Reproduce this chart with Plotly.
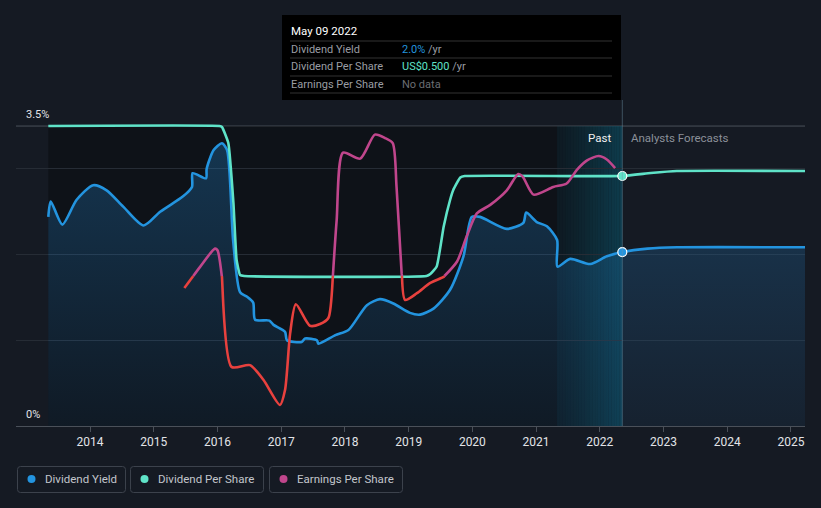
import plotly.graph_objects as go

W, H = 821, 508

# ---------------- data ----------------
# Dividend Yield (%), decimal years
dy_x = [2013.345, 2013.383, 2013.565, 2013.79, 2014.05, 2014.26, 2014.52, 2014.84, 2015.10,
        2015.46, 2015.60, 2015.61, 2015.82, 2015.83, 2015.94, 2016.07, 2016.15, 2016.245,
        2016.355, 2016.46, 2016.56, 2016.59, 2016.815, 2016.88, 2017.06, 2017.09, 2017.32,
        2017.375, 2017.56, 2017.585, 2017.85, 2018.055, 2018.345, 2018.55, 2018.76, 2019.02,
        2019.18, 2019.39, 2019.65, 2019.86, 2019.99, 2020.12, 2020.54, 2020.80, 2020.845,
        2021.01, 2021.17, 2021.33, 2021.335, 2021.535, 2021.85, 2022.11, 2022.353,
        2022.75, 2023.21, 2025.22]
dy_y = [2.44, 2.62, 2.35, 2.64, 2.81, 2.75, 2.56, 2.34, 2.50,
        2.68, 2.79, 2.95, 2.89, 3.00, 3.22, 3.30, 3.22, 2.17,
        1.56, 1.51, 1.44, 1.24, 1.23, 1.18, 1.10, 1.00, 0.98,
        1.02, 1.00, 0.96, 1.06, 1.12, 1.41, 1.48, 1.43, 1.32,
        1.30, 1.37, 1.59, 1.98, 2.44, 2.44, 2.30, 2.37, 2.49,
        2.38, 2.33, 2.17, 1.86, 1.95, 1.89, 1.98, 2.03,
        2.07, 2.085, 2.085]

# Dividend Per Share (US$)
dps_x = [2013.345, 2016.03, 2016.07, 2016.17, 2016.25, 2016.30, 2016.355, 2016.42, 2019.28,
         2019.34, 2019.44, 2019.55, 2019.65, 2019.70, 2019.81, 2019.88, 2022.353,
         2022.8, 2023.21, 2025.22]
dps_y = [0.60, 0.60, 0.598, 0.566, 0.446, 0.332, 0.302, 0.30, 0.30,
         0.304, 0.319, 0.399, 0.452, 0.472, 0.497, 0.50, 0.50,
         0.506, 0.51, 0.51]

# Earnings Per Share (US$)
eps_x = [2015.48, 2015.73, 2015.96, 2016.00, 2016.07, 2016.22, 2016.51, 2016.72, 2016.98,
         2017.06, 2017.14, 2017.23, 2017.45, 2017.61, 2017.74, 2017.81, 2017.87, 2017.97,
         2018.24, 2018.47, 2018.63, 2018.75, 2018.81, 2018.89, 2018.945, 2019.13, 2019.34,
         2019.55, 2019.76, 2019.91, 2020.07, 2020.28, 2020.54, 2020.72, 2020.79, 2020.96,
         2021.27, 2021.48, 2021.64, 2021.80, 2021.98, 2022.11, 2022.24]
eps_y = [1.61, 1.86, 2.07, 2.05, 1.74, 0.69, 0.71, 0.54, 0.245,
         0.42, 1.08, 1.42, 1.17, 1.19, 1.26, 1.74, 2.40, 3.19,
         3.12, 3.40, 3.36, 3.30, 2.79, 1.78, 1.47, 1.55, 1.67,
         1.74, 1.92, 2.21, 2.48, 2.58, 2.75, 2.94, 2.91, 2.70,
         2.79, 2.83, 2.99, 3.10, 3.15, 3.11, 3.01]
eps_threshold = 1.75

years = list(range(2014, 2026))
year_labels = [str(y) for y in years]

today = 2022.353
past_band_start = 2021.33
start_x = dy_x[0]
x_min, x_max = 2012.838, 2025.22

# ---------------- colors ----------------
BG = "#151a23"
BLUE = "#2394df"
TEAL = "#5fe3c8"
RED = "#e8413e"
PINK = "#c0468c"

# ---------------- helpers ----------------
def px(x):
    return x / W


def py(y):
    return 1 - y / H


def split_series(xs, ys, thr):
    lo_x, lo_y, hi_x, hi_y = [], [], [], []
    for i, (x, y) in enumerate(zip(xs, ys)):
        side = y < thr
        if i > 0:
            x0, y0 = xs[i - 1], ys[i - 1]
            pside = y0 < thr
            if side != pside:
                t = (thr - y0) / (y - y0)
                xc = x0 + t * (x - x0)
                if pside:
                    lo_x += [xc, None]; lo_y += [thr, None]
                    hi_x.append(xc); hi_y.append(thr)
                else:
                    hi_x += [xc, None]; hi_y += [thr, None]
                    lo_x.append(xc); lo_y.append(thr)
        if side:
            lo_x.append(x); lo_y.append(y)
        else:
            hi_x.append(x); hi_y.append(y)
    return lo_x, lo_y, hi_x, hi_y


def rounded_rect(x0, y0, x1, y1, r=3):
    def P(x, y):
        return f"{px(x):.5f},{py(y):.5f}"
    return (f"M {P(x0 + r, y0)} L {P(x1 - r, y0)} Q {P(x1, y0)} {P(x1, y0 + r)} "
            f"L {P(x1, y1 - r)} Q {P(x1, y1)} {P(x1 - r, y1)} L {P(x0 + r, y1)} "
            f"Q {P(x0, y1)} {P(x0, y1 - r)} L {P(x0, y0 + r)} Q {P(x0, y0)} {P(x0 + r, y0)} Z")


fig = go.Figure()

# Dividend yield area
fig.add_trace(go.Scatter(
    x=dy_x, y=dy_y, mode="lines", line=dict(color=BLUE, width=2.6, shape="spline", smoothing=0.7),
    fill="tozeroy",
    fillgradient=dict(type="vertical", start=0, stop=3.3,
                      colorscale=[[0, "rgba(35,120,190,0.08)"], [1, "rgba(35,130,200,0.32)"]]),
    hoverinfo="skip", showlegend=False, yaxis="y"))

# Dividend per share
fig.add_trace(go.Scatter(
    x=dps_x, y=dps_y, mode="lines", line=dict(color=TEAL, width=2.6, shape="spline", smoothing=0.4),
    hoverinfo="skip", showlegend=False, yaxis="y2"))

# Earnings per share (red below threshold, pink above)
lo_x, lo_y, hi_x, hi_y = split_series(eps_x, eps_y, eps_threshold)
fig.add_trace(go.Scatter(
    x=lo_x, y=lo_y, mode="lines", line=dict(color=RED, width=2.6, shape="spline", smoothing=0.7),
    hoverinfo="skip", showlegend=False, yaxis="y3", connectgaps=False))
fig.add_trace(go.Scatter(
    x=hi_x, y=hi_y, mode="lines", line=dict(color=PINK, width=2.6, shape="spline", smoothing=0.7),
    hoverinfo="skip", showlegend=False, yaxis="y3", connectgaps=False))

# Markers at today
fig.add_trace(go.Scatter(
    x=[today], y=[dps_y[dps_x.index(today)]], mode="markers",
    marker=dict(color=TEAL, size=9, line=dict(color="white", width=1.2)),
    hoverinfo="skip", showlegend=False, yaxis="y2"))
fig.add_trace(go.Scatter(
    x=[today], y=[dy_y[dy_x.index(today)]], mode="markers",
    marker=dict(color=BLUE, size=9, line=dict(color="white", width=1.2)),
    hoverinfo="skip", showlegend=False, yaxis="y"))

y_top_px, y_bot_px = 95, 426
y_range = [0, (y_bot_px - y_top_px) / 85.7]
dom_y = [1 - y_bot_px / H, 1 - y_top_px / H]
dom_x = [16 / W, 805 / W]

shapes = []
# dark past background
shapes.append(dict(type="rect", xref="x", yref="y", x0=start_x, x1=today, y0=0, y1=3.5,
                   fillcolor="rgba(0,0,0,0.30)", line=dict(width=0), layer="below"))
# highlight band gradient (last year)
n = 24
for i in range(n):
    a = 0.12 + 0.42 * (i / (n - 1)) ** 1.2
    xa = past_band_start + (today - past_band_start) * i / n
    xb = past_band_start + (today - past_band_start) * (i + 1) / n
    shapes.append(dict(type="rect", xref="x", yref="y", x0=xa, x1=xb, y0=0, y1=3.5,
                       fillcolor=f"rgba(14,95,120,{a:.3f})", line=dict(width=0), layer="below"))
# top 3.5% line
shapes.append(dict(type="line", xref="paper", yref="y", x0=dom_x[0], x1=dom_x[1], y0=3.5, y1=3.5,
                   line=dict(color="#4a5059", width=1), layer="below"))
# today vertical line
shapes.append(dict(type="line", xref="x", yref="paper", x0=today, x1=today, y0=py(426), y1=py(100),
                   line=dict(color="rgba(110,150,170,0.45)", width=1)))

# tooltip box
shapes.append(dict(type="rect", xref="paper", yref="paper", x0=px(282), x1=px(621), y0=py(100), y1=py(15),
                   fillcolor="#000000", line=dict(width=0)))
for yy in [41, 58, 76, 93]:
    shapes.append(dict(type="line", xref="paper", yref="paper", x0=px(290), x1=px(612), y0=py(yy), y1=py(yy),
                       line=dict(color="#333333", width=1)))

# legend boxes
legend_items = [("Dividend Yield", BLUE, 17, 126), ("Dividend Per Share", TEAL, 130, 264),
                ("Earnings Per Share", PINK, 269, 403)]
annotations = []
for label, col, bx0, bx1 in legend_items:
    shapes.append(dict(type="path", xref="paper", yref="paper", path=rounded_rect(bx0 + 0.5, 466.5, bx1 - 0.5, 492.5),
                       line=dict(color="#3c424c", width=1), fillcolor="rgba(0,0,0,0)"))
    cx, cy, r = bx0 + 14.5, 479, 4
    shapes.append(dict(type="circle", xref="paper", yref="paper", x0=px(cx - r), x1=px(cx + r),
                       y0=py(cy + r), y1=py(cy - r), fillcolor=col, line=dict(width=0)))
    annotations.append(dict(xref="paper", yref="paper", x=px(bx0 + 26), y=py(479), text=label,
                            showarrow=False, xanchor="left", yanchor="middle",
                            font=dict(family="Roboto", size=11.5, color="#c3c6cc")))

# y labels
annotations.append(dict(xref="paper", yref="paper", x=px(24), y=py(114), text="3.5%", showarrow=False,
                        xanchor="left", yanchor="middle", font=dict(family="Roboto", size=11, color="#e2e4e8")))
annotations.append(dict(xref="paper", yref="paper", x=px(24), y=py(414), text="0%", showarrow=False,
                        xanchor="left", yanchor="middle", font=dict(family="Roboto", size=11, color="#e2e4e8")))
# Past / forecasts
annotations.append(dict(xref="paper", yref="paper", x=px(613), y=py(138), text="Past", showarrow=False,
                        xanchor="right", yanchor="middle", font=dict(family="Roboto", size=11.5, color="#f0f0f0")))
annotations.append(dict(xref="paper", yref="paper", x=px(629), y=py(138), text="Analysts Forecasts",
                        showarrow=False, xanchor="left", yanchor="middle",
                        font=dict(family="Roboto", size=11.5, color="#8b9099")))
# tooltip text
annotations.append(dict(xref="paper", yref="paper", x=px(289), y=py(31), text="May 09 2022", showarrow=False,
                        xanchor="left", yanchor="middle", font=dict(family="Roboto", size=11.5, color="#ffffff")))
rows = [("Dividend Yield", f'<span style="color:{BLUE}">2.0%</span> /yr', 49),
        ("Dividend Per Share", f'<span style="color:{TEAL}">US$0.500</span> /yr', 66),
        ("Earnings Per Share", '<span style="color:#6b6e73">No data</span>', 84)]
for lab, val, yy in rows:
    annotations.append(dict(xref="paper", yref="paper", x=px(289), y=py(yy), text=lab, showarrow=False,
                            xanchor="left", yanchor="middle", font=dict(family="Roboto", size=11, color="#9a9da3")))
    annotations.append(dict(xref="paper", yref="paper", x=px(400), y=py(yy), text=val, showarrow=False,
                            xanchor="left", yanchor="middle", font=dict(family="Roboto", size=11, color="#9a9da3")))

fig.update_layout(
    width=W, height=H, margin=dict(l=0, r=0, t=0, b=0),
    paper_bgcolor=BG, plot_bgcolor=BG,
    showlegend=False,
    xaxis=dict(domain=dom_x, range=[x_min, x_max], tickvals=years, ticktext=year_labels,
               showgrid=False, zeroline=False, showline=True, linecolor="#4a5059", linewidth=1,
               ticks="outside", ticklen=5, tickcolor="#4a5059",
               tickfont=dict(family="Roboto", size=12, color="#e2e4e8")),
    yaxis=dict(domain=dom_y, range=y_range, tickvals=[1, 2, 3], showticklabels=False,
               showgrid=True, gridcolor="#262c35", gridwidth=1, zeroline=False),
    yaxis2=dict(domain=dom_y, range=[0, (y_bot_px - y_top_px) * 0.002], overlaying="y", visible=False),
    yaxis3=dict(domain=dom_y, range=y_range, overlaying="y", visible=False),
    shapes=shapes, annotations=annotations,
)

fig.write_html("out.html")
